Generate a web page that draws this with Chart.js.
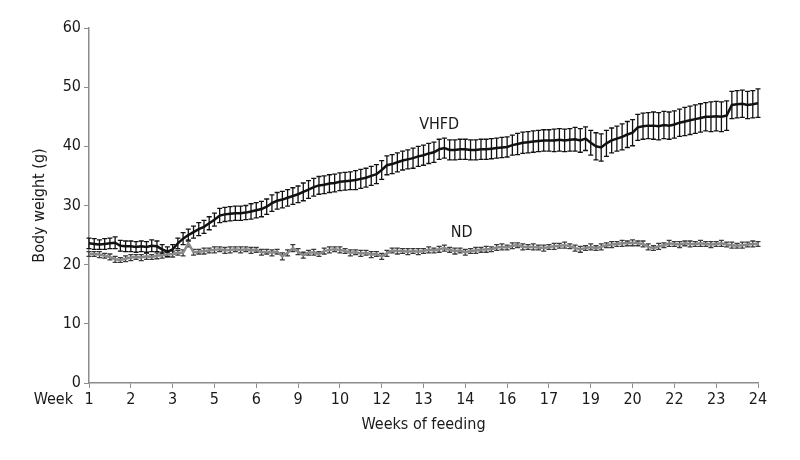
<!DOCTYPE html>
<html>
<head>
<meta charset="utf-8">
<script src="https://cdn.jsdelivr.net/npm/chart.js@4"></script>
<style>
  html, body { margin: 0; padding: 0; background: #fff; }
  #wrap { width: 800px; height: 460px; position: relative; }
</style>
</head>
<body>
<div id="wrap"><canvas id="weightChart"></canvas></div>
<script>
// Tick labels under the x axis (one per group of measurements)
const weekLabels = ['1', '2', '3', '5', '6', '9', '10', '12', '13', '14', '16', '17', '19', '20', '22', '23', '24'];
const POINTS_PER_TICK = 8;
const yTicks = [0, 10, 20, 30, 40, 50, 60];

// VHFD group: mean body weight (g) and error
const vhfdMean = [
    23.6, 23.5, 23.4, 23.5, 23.6, 23.7, 23.2, 23.1,
    23.1, 23.0, 23.1, 23.0, 23.2, 23.1, 22.6, 22.2,
    22.6, 23.6, 24.4, 25.0, 25.5, 26.0, 26.4, 27.0,
    27.6, 28.3, 28.5, 28.6, 28.7, 28.7, 28.8, 29.0,
    29.2, 29.4, 29.8, 30.4, 30.8, 31.0, 31.3, 31.6,
    31.9, 32.3, 32.7, 33.1, 33.4, 33.5, 33.7, 33.8,
    34.0, 34.1, 34.2, 34.3, 34.5, 34.7, 35.0, 35.3,
    36.0, 36.8, 37.0, 37.3, 37.6, 37.8, 38.0, 38.3,
    38.5, 38.8, 39.0, 39.5, 39.7, 39.4, 39.4, 39.5,
    39.5, 39.4, 39.4, 39.5, 39.5, 39.6, 39.7, 39.8,
    39.9, 40.2, 40.4, 40.6, 40.7, 40.8, 40.9, 41.0,
    41.0, 41.0, 41.1, 41.0, 41.1, 41.2, 41.0, 41.3,
    40.6, 40.0, 39.8, 40.5, 41.0, 41.3, 41.6, 42.0,
    42.3, 43.2, 43.4, 43.5, 43.5, 43.4, 43.6, 43.5,
    43.7, 44.0, 44.2, 44.4, 44.6, 44.8, 45.0, 45.0,
    45.1, 45.0, 45.2, 47.0, 47.1, 47.2, 47.0, 47.1,
    47.3
];
const vhfdErr = [
    0.9, 0.9, 0.8, 0.9, 0.9, 1.0, 0.9, 0.9,
    0.9, 0.9, 0.9, 0.9, 1.0, 0.9, 0.8, 0.8,
    0.8, 0.9, 1.0, 1.0, 1.0, 1.1, 1.1, 1.1,
    1.1, 1.2, 1.2, 1.2, 1.2, 1.2, 1.2, 1.3,
    1.3, 1.3, 1.3, 1.4, 1.4, 1.4, 1.4, 1.4,
    1.4, 1.5, 1.5, 1.5, 1.5, 1.5, 1.5, 1.5,
    1.5, 1.5, 1.5, 1.6, 1.6, 1.6, 1.6, 1.6,
    1.6, 1.6, 1.6, 1.6, 1.6, 1.6, 1.7, 1.7,
    1.7, 1.7, 1.7, 1.7, 1.7, 1.7, 1.7, 1.7,
    1.7, 1.7, 1.7, 1.7, 1.7, 1.7, 1.7, 1.7,
    1.7, 1.7, 1.8, 1.8, 1.8, 1.8, 1.8, 1.8,
    1.8, 1.9, 1.9, 1.9, 1.9, 2.0, 2.0, 2.0,
    2.1, 2.3, 2.3, 2.2, 2.1, 2.1, 2.2, 2.2,
    2.2, 2.2, 2.2, 2.2, 2.3, 2.3, 2.3, 2.3,
    2.3, 2.3, 2.4, 2.4, 2.4, 2.4, 2.4, 2.5,
    2.5, 2.5, 2.5, 2.3, 2.3, 2.3, 2.3, 2.3,
    2.4
];

// ND group: mean body weight (g) and error
const ndMean = [
    21.8, 21.8, 21.7, 21.5, 21.3, 20.9, 20.8, 21.0,
    21.2, 21.3, 21.2, 21.4, 21.3, 21.5, 21.6, 21.7,
    21.8, 22.0, 22.0, 23.6, 22.1, 22.2, 22.3, 22.4,
    22.5, 22.6, 22.4, 22.5, 22.6, 22.5, 22.6, 22.4,
    22.5, 22.1, 22.2, 22.0, 22.2, 21.4, 22.0, 22.8,
    22.2, 21.6, 22.0, 22.1, 21.8, 22.3, 22.5, 22.6,
    22.5, 22.3, 22.0, 22.1, 21.9, 22.0, 21.7, 21.8,
    21.4, 21.9, 22.4, 22.3, 22.3, 22.2, 22.3, 22.2,
    22.3, 22.5, 22.4, 22.6, 22.8, 22.5, 22.3, 22.4,
    22.1, 22.3, 22.4, 22.5, 22.6, 22.6, 22.9, 23.0,
    22.9, 23.2, 23.3, 23.0, 23.0, 23.0, 22.9, 22.8,
    23.0, 23.1, 23.2, 23.3, 23.1, 22.8, 22.6, 22.8,
    23.0, 22.8, 23.0, 23.3, 23.4, 23.5, 23.6, 23.6,
    23.7, 23.6, 23.5, 23.0, 22.8, 23.1, 23.3, 23.6,
    23.5, 23.4, 23.6, 23.5, 23.5, 23.6, 23.5, 23.4,
    23.5, 23.6, 23.4, 23.3, 23.2, 23.3, 23.4, 23.5,
    23.5
];
const ndErr = [
    0.4, 0.4, 0.5, 0.4, 0.5, 0.5, 0.4, 0.5,
    0.5, 0.4, 0.5, 0.5, 0.4, 0.5, 0.5, 0.4,
    0.5, 0.4, 0.5, 0.6, 0.5, 0.4, 0.5, 0.4,
    0.5, 0.4, 0.5, 0.5, 0.4, 0.5, 0.4, 0.5,
    0.4, 0.5, 0.4, 0.5, 0.4, 0.6, 0.5, 0.6,
    0.5, 0.5, 0.4, 0.5, 0.4, 0.5, 0.5, 0.4,
    0.5, 0.4, 0.5, 0.4, 0.5, 0.4, 0.5, 0.4,
    0.5, 0.5, 0.4, 0.5, 0.4, 0.5, 0.4, 0.5,
    0.4, 0.5, 0.4, 0.5, 0.5, 0.4, 0.5, 0.4,
    0.5, 0.4, 0.5, 0.4, 0.5, 0.4, 0.5, 0.5,
    0.4, 0.5, 0.4, 0.5, 0.4, 0.5, 0.4, 0.5,
    0.4, 0.5, 0.4, 0.5, 0.4, 0.5, 0.5, 0.4,
    0.5, 0.4, 0.5, 0.4, 0.5, 0.4, 0.5, 0.4,
    0.5, 0.4, 0.5, 0.5, 0.4, 0.5, 0.4, 0.5,
    0.4, 0.5, 0.4, 0.5, 0.4, 0.5, 0.4, 0.5,
    0.4, 0.5, 0.4, 0.5, 0.4, 0.5, 0.4, 0.5,
    0.4
];

const FONT = '"DejaVu Sans Condensed", "Liberation Sans Narrow", sans-serif';
const AXIS_GREY = '#8c8c8c';
const TEXT = '#1a1a1a';

const toPoints = arr => arr.map((y, i) => ({ x: i, y: y }));

// Vertical error bars with caps, drawn through the chart scales
const errorBars = {
    id: 'errorBars',
    beforeDatasetsDraw(chart) {
        const { ctx, scales: { x, y } } = chart;
        chart.data.datasets.forEach(ds => {
            if (!ds.errors) return;
            ctx.save();
            ctx.strokeStyle = ds.errorColor;
            ctx.lineWidth = 1.3;
            ds.data.forEach((p, i) => {
                const e = ds.errors[i];
                const px = x.getPixelForValue(p.x);
                const top = y.getPixelForValue(p.y + e);
                const bot = y.getPixelForValue(p.y - e);
                ctx.beginPath();
                ctx.moveTo(px, top); ctx.lineTo(px, bot);
                ctx.moveTo(px - 2.5, top); ctx.lineTo(px + 2.5, top);
                ctx.moveTo(px - 2.5, bot); ctx.lineTo(px + 2.5, bot);
                ctx.stroke();
            });
            ctx.restore();
        });
    }
};

// Series names and the "Week" prefix on the x axis
const labels = {
    id: 'labels',
    afterDraw(chart) {
        const { ctx, scales: { x, y } } = chart;
        ctx.save();
        ctx.fillStyle = TEXT;
        ctx.font = '16px ' + FONT;
        ctx.textAlign = 'center';
        ctx.textBaseline = 'middle';
        ctx.fillText('VHFD', x.getPixelForValue(67), y.getPixelForValue(43.6));
        ctx.fillText('ND', x.getPixelForValue(71.3), y.getPixelForValue(25.3));
        ctx.textAlign = 'right';
        ctx.fillText('Week', x.left - 16, y.bottom + 17);
        ctx.restore();
    }
};

new Chart(document.getElementById('weightChart'), {
    type: 'line',
    data: {
        datasets: [
            {
                label: 'ND',
                data: toPoints(ndMean),
                errors: ndErr,
                errorColor: '#3a3a3a',
                borderColor: '#8a8a8a',
                borderWidth: 2.5,
                pointRadius: 0,
                tension: 0
            },
            {
                label: 'VHFD',
                data: toPoints(vhfdMean),
                errors: vhfdErr,
                errorColor: '#111111',
                borderColor: '#111111',
                borderWidth: 2.5,
                pointRadius: 0,
                tension: 0
            }
        ]
    },
    options: {
        responsive: true,
        maintainAspectRatio: false,
        animation: false,
        layout: { padding: { left: 0, right: 42, top: 28, bottom: 22 } },
        plugins: { legend: { display: false }, tooltip: { enabled: false } },
        scales: {
            x: {
                type: 'linear',
                min: 0,
                max: (weekLabels.length - 1) * POINTS_PER_TICK,
                afterBuildTicks: s => { s.ticks = weekLabels.map((_, k) => ({ value: k * POINTS_PER_TICK })); },
                afterFit: s => { s.height = 55; },
                ticks: {
                    autoSkip: false,
                    maxRotation: 0,
                    padding: 2,
                    color: TEXT,
                    font: { family: FONT, size: 16 },
                    callback: v => weekLabels[Math.round(v / POINTS_PER_TICK)]
                },
                grid: { drawOnChartArea: false, color: AXIS_GREY, tickLength: 5 },
                border: { color: AXIS_GREY, width: 1.5 },
                title: {
                    display: true,
                    text: 'Weeks of feeding',
                    color: TEXT,
                    font: { family: FONT, size: 16 },
                    padding: { top: 2 }
                }
            },
            y: {
                min: 0,
                max: 60,
                afterBuildTicks: s => { s.ticks = yTicks.map(v => ({ value: v })); },
                afterFit: s => { s.width = 89; },
                ticks: {
                    padding: 3,
                    color: TEXT,
                    font: { family: FONT, size: 16 }
                },
                grid: { drawOnChartArea: false, color: AXIS_GREY, tickLength: 5 },
                border: { color: AXIS_GREY, width: 1.5 },
                title: {
                    display: true,
                    text: 'Body weight (g)',
                    color: TEXT,
                    font: { family: FONT, size: 16 },
                    padding: { top: 30, bottom: 0 }
                }
            }
        }
    },
    plugins: [errorBars, labels]
});
</script>
</body>
</html>
